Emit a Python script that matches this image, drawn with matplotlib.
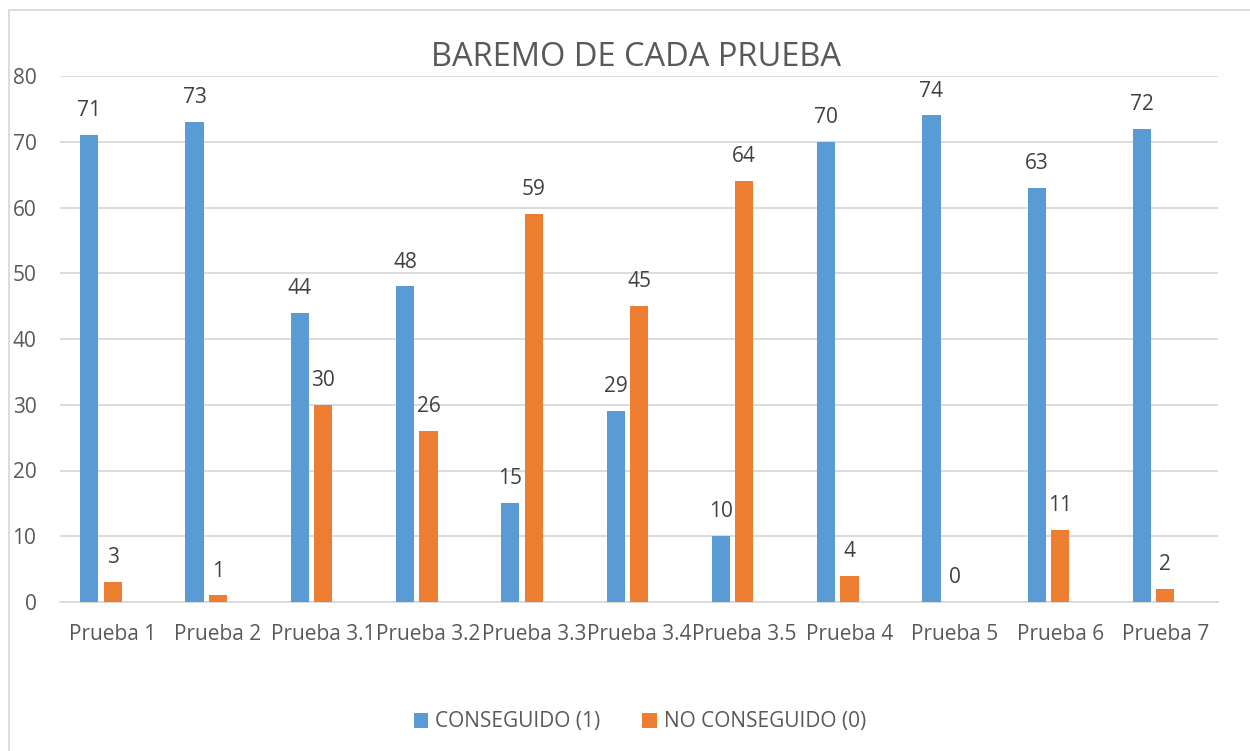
"""Bar chart: baremo de cada prueba."""

import matplotlib
matplotlib.use("Agg")
import matplotlib.pyplot as plt
from matplotlib.lines import Line2D
import numpy as np

categories = ["Prueba 1", "Prueba 2", "Prueba 3.1", "Prueba 3.2", "Prueba 3.3",
              "Prueba 3.4", "Prueba 3.5", "Prueba 4", "Prueba 5", "Prueba 6", "Prueba 7"]
conseguido = [71, 73, 44, 48, 15, 29, 10, 70, 74, 63, 72]
no_conseguido = [3, 1, 30, 26, 59, 45, 64, 4, 0, 11, 2]

BLUE = "#5B9BD5"
ORANGE = "#ED7D31"
GRID = "#D9D9D9"
TXT = "#595959"
LBL = "#404040"

plt.rcParams["font.family"] = ["Open Sans", "DejaVu Sans"]

W, H = 1250, 751
fig = plt.figure(figsize=(W / 100, H / 100), dpi=100)
ax = fig.add_axes([60 / W, 1 - 602 / H, (1218 - 60) / W, (602 - 76) / H])

x = np.arange(len(categories))
bw = 0.172
step = 0.222
b1 = ax.bar(x - step, conseguido, bw, color=BLUE, label="CONSEGUIDO (1)", zorder=3)
b2 = ax.bar(x, no_conseguido, bw, color=ORANGE, label="NO CONSEGUIDO (0)", zorder=3)

for bars, vals in ((b1, conseguido), (b2, no_conseguido)):
    for rect, v in zip(bars, vals):
        ax.annotate(str(v), (rect.get_x() + rect.get_width() / 2, v),
                    xytext=(0, 10), textcoords="offset points",
                    ha="center", va="bottom", fontsize=15, color=LBL)

ax.set_xlim(-0.5, len(categories) - 0.5)
ax.set_ylim(0, 80)
ax.set_yticks(range(0, 81, 10))
ax.set_xticks(x)
ax.set_xticklabels(categories)
ax.tick_params(axis="both", length=0, labelsize=15, labelcolor=TXT)
ax.tick_params(axis="y", pad=17)
ax.tick_params(axis="x", pad=16)
ax.yaxis.grid(True, color=GRID, linewidth=1.3, zorder=0)
for s in ("top", "right", "left"):
    ax.spines[s].set_visible(False)
ax.spines["bottom"].set_color(GRID)
ax.spines["bottom"].set_linewidth(1.3)
ax.set_axisbelow(True)

fig.text(636 / W, 1 - 58 / H, "BAREMO DE CADA PRUEBA", ha="center", va="center",
         fontsize=23.5, color=TXT)

fig.legend(handles=[b1, b2], loc="center", bbox_to_anchor=(640 / W, 1 - 722 / H),
           ncol=2, frameon=False, fontsize=15, labelcolor=TXT,
           handlelength=0.7, handleheight=0.7, handletextpad=0.35, columnspacing=2.0)

# chart border (only top and left edges visible in the reference)
fig.add_artist(Line2D([9 / W, 1], [1 - 10 / H, 1 - 10 / H], color=GRID, lw=1.3,
                      transform=fig.transFigure))
fig.add_artist(Line2D([9 / W, 9 / W], [0, 1 - 10 / H], color=GRID, lw=1.3,
                      transform=fig.transFigure))

fig.savefig("out.png", dpi=100)
plt.close(fig)
